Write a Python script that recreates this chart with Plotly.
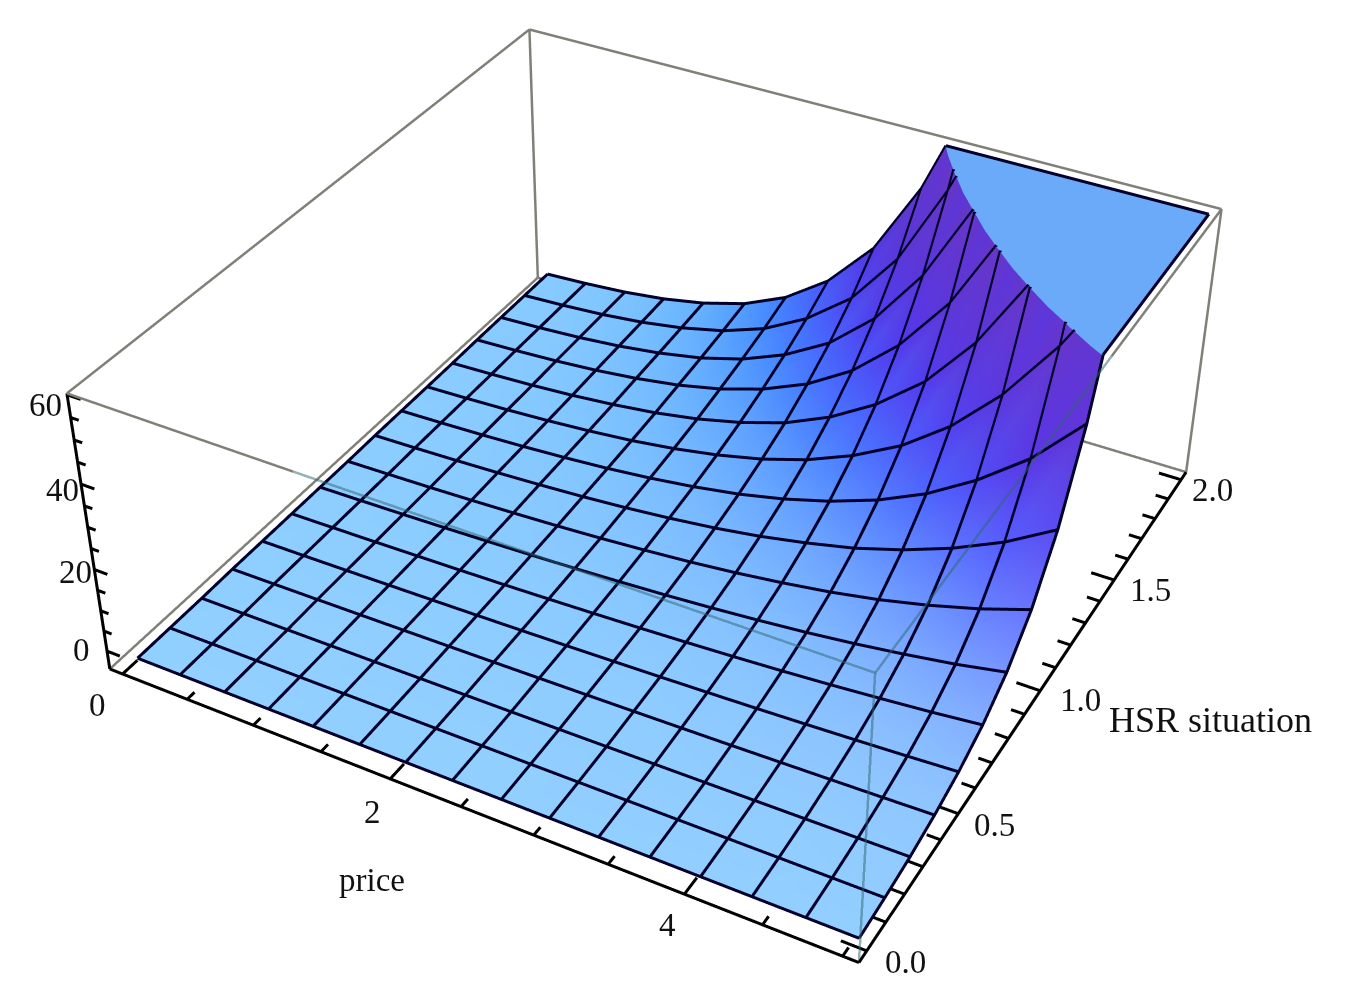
import numpy as np
import plotly.graph_objects as go

price = [0.05, 0.38, 0.72, 1.05, 1.38, 1.72, 2.05, 2.38, 2.72, 3.05, 3.38, 3.72, 4.05, 4.38, 4.72, 5.05]
hsr = [0, 0.133, 0.267, 0.4, 0.533, 0.667, 0.8, 0.933, 1.067, 1.2, 1.333, 1.467, 1.6, 1.733, 1.867, 2]
# z values; rows follow hsr, columns follow price
demand = [
 [1,1,1,1,1,1,1,1,1,1,1,1,1,1,1,1],
 [1,1.03,1.06,1.09,1.12,1.16,1.19,1.23,1.26,1.30,1.34,1.38,1.42,1.46,1.50,1.54],
 [1,1.06,1.12,1.19,1.26,1.34,1.42,1.50,1.59,1.69,1.79,1.89,2.01,2.13,2.25,2.39],
 [1,1.09,1.19,1.30,1.42,1.55,1.69,1.84,2.01,2.19,2.39,2.60,2.84,3.10,3.38,3.69],
 [1,1.12,1.26,1.42,1.59,1.79,2.01,2.25,2.53,2.84,3.19,3.58,4.02,4.51,5.07,5.70],
 [1,1.16,1.34,1.55,1.79,2.06,2.39,2.76,3.19,3.69,4.26,4.93,5.70,6.59,7.61,8.80],
 [1,1.19,1.42,1.69,2.01,2.39,2.84,3.38,4.02,4.79,5.70,6.78,8.07,9.60,11.4,13.6],
 [1,1.23,1.50,1.84,2.25,2.76,3.38,4.14,5.07,6.21,7.61,9.32,11.4,14.0,17.2,21.0],
 [1,1.26,1.59,2.01,2.53,3.19,4.02,5.07,6.40,8.07,10.2,12.8,16.2,20.4,25.8,32.5],
 [1,1.30,1.69,2.19,2.84,3.69,4.79,6.21,8.07,10.5,13.6,17.7,22.9,29.8,38.6,50.1],
 [1,1.34,1.79,2.39,3.19,4.26,5.70,7.61,10.2,13.6,18.2,24.3,32.5,43.4,58.0,77.5],
 [1,1.38,1.89,2.60,3.58,4.93,6.78,9.33,12.8,17.7,24.3,33.4,46.0,63.3,87.1,120],
 [1,1.42,2.01,2.84,4.02,5.70,8.07,11.4,16.2,22.9,32.5,46.0,65.1,92.2,131,185],
 [1,1.46,2.13,3.10,4.52,6.59,9.60,14.0,20.4,29.8,43.4,63.3,92.2,134,196,285],
 [1,1.50,2.25,3.38,5.07,7.61,11.4,17.2,25.7,38.6,58.0,87.1,131,196,295,442],
 [1,1.55,2.39,3.69,5.70,8.80,13.6,21.0,32.5,50.2,77.5,120,185,285,442,682],
]
# height of the flat part of the sheet for each hsr row, read against the z ticks
row_level = [-3.5,-3.4,-3.3,-3.1,-3.0,-2.9,-2.8,-2.7,-2.5,-2.4,-2.3,-2.2,-2.0,-1.9,-1.8,-1.7]
z_ticks = [0, 20, 40, 60]
price_ticks = [0, 2, 4]
hsr_ticks = [0.0, 0.5, 1.0, 1.5, 2.0]
clip_z = 60.0

box_x = [-0.1, 5.1]; box_y = [-0.04, 2.04]; box_z = [-4.5, 60.3]
box_aspect = [1, 1.0029, 0.4047]
EPS = 0.003
def pad(r):
    return [r[0] - EPS * (r[1] - r[0]), r[1] + EPS * (r[1] - r[0])]
xr, yr, zr = pad(box_x), pad(box_y), pad(box_z)
aspect = dict(x=box_aspect[0] * (1 + 2 * EPS), y=box_aspect[1] * (1 + 2 * EPS), z=box_aspect[2] * (1 + 2 * EPS))
eye = np.array([1.3161, -2.4062, 1.9683])
FIG_W, FIG_H = 1350, 2288
TOP, LEFT = -708, -2

X, Y = np.meshgrid(price, hsr)
Z = np.array(demand, float) + np.array(row_level)[:, None]

# shading from surface orientation in view space (three coloured lights + ambient)
fw = -eye / np.linalg.norm(eye)
r = np.cross(fw, [0, 0, 1]); r /= np.linalg.norm(r)
u = np.cross(r, fw)
sx = box_aspect[0] / (box_x[1] - box_x[0]); sy = box_aspect[1] / (box_y[1] - box_y[0]); sz = box_aspect[2] / (box_z[1] - box_z[0])
ZC = np.minimum(Z, 90.0)
dzdh, dzdp = np.gradient(ZC * sz, np.array(hsr) * sy, np.array(price) * sx)
N = np.stack([-dzdp, -dzdh, np.ones_like(Z)], -1)
N /= np.linalg.norm(N, axis=-1, keepdims=True)
V = np.stack([N @ r, N @ u, N @ (-fw)], -1)
def lit(l):
    l = np.array(l, float); l /= np.linalg.norm(l)
    return np.clip(V @ l, 0, 1)
steep = 1 - N[..., 2]
R = (0.312 + 0.8 * lit([1, 0, 1])) * 0.88
G = (0.188 + 0.8 * lit([1, 1, 1])) * 0.985
B = 0.55 + 0.65 * lit([0, 1, 1])
R = 0.55 * (R / 0.55) ** 1.15 + 0.28 * steep ** 1.5
G = 0.80 * (G / 0.80) ** 0.9
C = np.clip(np.stack([R, G, B], -1), 0, 1) * 255

def cross_t(a, b):
    a = max(a, 0.01); b = max(b, 0.01)
    return (np.log(clip_z) - np.log(a)) / (np.log(b) - np.log(a))

def clip_poly(poly, keep_below):
    out = []
    n = len(poly)
    for a in range(n):
        p, q = poly[a], poly[(a + 1) % n]
        pin = p[2] <= clip_z if keep_below else p[2] >= clip_z
        qin = q[2] <= clip_z if keep_below else q[2] >= clip_z
        if pin:
            out.append(p)
        if pin != qin:
            t = cross_t(p[2], q[2])
            m = p + t * (q - p)
            m[2] = clip_z
            out.append(m)
    return out

low_v, low_f, top_v, top_f = [], [], [], []
def add(poly, vs, fs):
    if len(poly) < 3:
        return
    b = len(vs)
    vs.extend(poly)
    for k in range(1, len(poly) - 1):
        fs.append((b, b + k, b + k + 1))
ny, nx = Z.shape
for j in range(ny - 1):
    for i in range(nx - 1):
        c = [np.r_[X[m, n], Y[m, n], Z[m, n], C[m, n]] for m, n in [(j, i), (j, i + 1), (j + 1, i + 1), (j + 1, i)]]
        for tri in ([c[0], c[1], c[2]], [c[0], c[2], c[3]]):
            add(clip_poly(tri, True), low_v, low_f)
            add(clip_poly(tri, False), top_v, top_f)
low_v = np.array(low_v); low_f = np.array(low_f)
top_v = np.array(top_v); top_f = np.array(top_f)

flat_light = dict(ambient=1, diffuse=0, specular=0, roughness=1, fresnel=0)
fig = go.Figure()
fig.add_trace(go.Mesh3d(
    x=low_v[:, 0], y=low_v[:, 1], z=low_v[:, 2],
    i=low_f[:, 0], j=low_f[:, 1], k=low_f[:, 2],
    vertexcolor=["rgb(%d,%d,%d)" % tuple(v[3:6]) for v in low_v],
    lighting=flat_light, flatshading=False, hoverinfo="skip", showscale=False))
fig.add_trace(go.Mesh3d(
    x=top_v[:, 0], y=top_v[:, 1], z=np.full(len(top_v), clip_z),
    i=top_f[:, 0], j=top_f[:, 1], k=top_f[:, 2],
    color="#6aaaf8", lighting=flat_light, hoverinfo="skip", showscale=False))

# mesh lines
lx, ly, lz = [], [], []
LIFT = 0.3
def put(p, q, zp, zq):
    lx.extend([p[0], q[0], None]); ly.extend([p[1], q[1], None]); lz.extend([zp + LIFT, zq + LIFT, None])
def polyline(xs, ys, zs, clamp):
    for a in range(len(xs) - 1):
        p = np.array([xs[a], ys[a], zs[a]]); q = np.array([xs[a + 1], ys[a + 1], zs[a + 1]])
        if p[2] > clip_z and q[2] > clip_z:
            if clamp:
                put(p, q, clip_z, clip_z)
            continue
        if q[2] > clip_z or p[2] > clip_z:
            t = cross_t(p[2], q[2])
            m = p + t * (q - p)
            keep = p if p[2] <= clip_z else q
            put(keep, m, keep[2], clip_z)
            if clamp:
                far = q if p[2] <= clip_z else p
                put(m, far, clip_z, clip_z)
        else:
            put(p, q, p[2], q[2])
for j in range(ny):
    polyline(X[j], Y[j], Z[j], j == ny - 1)
for i in range(nx):
    polyline(X[:, i], Y[:, i], Z[:, i], i == nx - 1)
fig.add_trace(go.Scatter3d(x=lx, y=ly, z=lz, mode="lines", line=dict(color="#00002a", width=6), hoverinfo="skip"))

# box
x0, x1 = box_x; y0, y1 = box_y; z0, z1 = box_z
enter_p = 1.5; enter_h = 1.27   # where the front top edges cross over the sheet
gray = [((x0,y0,z1),(enter_p,y0,z1)), ((x1,enter_h,z1),(x1,y1,z1)), ((x1,y1,z1),(x0,y1,z1)), ((x0,y1,z1),(x0,y0,z1)),
        ((x0,y1,z0),(x0,y1,z1)), ((x1,y1,z0),(x1,y1,z1)),
        ((x0,y0,z0),(x0,y1,z0)), ((x0,y1,z0),(x1,y1,z0))]
faint = [((enter_p,y0,z1),(x1,y0,z1)), ((x1,y0,z1),(x1,enter_h,z1)), ((x1,y0,z0),(x1,y0,z1))]
black = [((x0,y0,z0),(x0,y0,z1)), ((x0,y0,z0),(x1,y0,z0)), ((x1,y0,z0),(x1,y1,z0))]
def frange(a, b, s):
    return [a + s * k for k in range(int(round((b - a) / s)) + 1)]
for v in frange(0, 60, 5):
    black.append(((x0, y0, v), (x0 + (0.1 if v in z_ticks else 0.06), y0, v)))
for v in frange(0, 5, 0.5):
    black.append(((v, y0, z0), (v, y0 + (0.06 if v in price_ticks else 0.03), z0)))
for v in frange(0, 2, 0.1):
    black.append(((x1, v, z0), (x1 - (0.16 if min(abs(v - t) for t in hsr_ticks) < 1e-6 else 0.09), v, z0)))
def seg_trace(segs, color, width, opacity=1):
    a, b, c = [], [], []
    for p, q in segs:
        a += [p[0], q[0], None]; b += [p[1], q[1], None]; c += [p[2], q[2], None]
    return go.Scatter3d(x=a, y=b, z=c, mode="lines", line=dict(color=color, width=width), opacity=opacity, hoverinfo="skip")
fig.add_trace(seg_trace(gray, "#808078", 5))
fig.add_trace(seg_trace(black, "#000000", 6))
fig.add_trace(seg_trace(faint, "#2f6670", 5, 0.5))

def ann(text, px, py, size=33):
    return dict(text=text, x=(px - LEFT) / FIG_W, y=1 - (py - TOP) / FIG_H, xref="paper", yref="paper",
                xanchor="center", yanchor="middle", showarrow=False,
                font=dict(family="Liberation Serif", size=size, color="#111111"))
annotations = []
for t, pos in zip(z_ticks, [(81, 650), (75, 572), (62, 490), (45, 405)]):
    annotations.append(ann(str(t), *pos))
for t, pos in zip(price_ticks, [(97, 705), (372, 812), (667, 925)]):
    annotations.append(ann(str(t), *pos))
for t, pos in zip(hsr_ticks, [(905, 962), (995, 825), (1080, 700), (1150, 590), (1212, 490)]):
    annotations.append(ann("%.1f" % t, *pos))
annotations.append(ann("price", 372, 880))
annotations.append(ann("HSR situation", 1210, 720, 36))

hidden = dict(showgrid=False, zeroline=False, showline=False, showticklabels=False, ticks="",
              showbackground=False, showspikes=False, title=dict(text=""), autorange=False)
fig.update_layout(
    width=FIG_W, height=FIG_H, margin=dict(l=0, r=0, t=0, b=0), showlegend=False,
    paper_bgcolor="white", annotations=annotations,
    scene=dict(
        domain=dict(x=[0, 1], y=[0, 1]),
        xaxis=dict(range=xr, **hidden), yaxis=dict(range=yr, **hidden), zaxis=dict(range=zr, **hidden),
        aspectmode="manual", aspectratio=aspect,
        camera=dict(eye=dict(x=eye[0], y=eye[1], z=eye[2]), center=dict(x=0, y=0, z=0), up=dict(x=0, y=0, z=1),
                    projection=dict(type="perspective"))))
post = """
var g=document.getElementById('{plot_id}');
g.style.position='absolute';g.style.top='%dpx';g.style.left='%dpx';
document.body.style.margin='0';document.body.style.overflow='hidden';document.documentElement.style.overflow='hidden';
""" % (TOP, LEFT)
fig.write_html("out.html", config={"displayModeBar": False}, post_script=post)
